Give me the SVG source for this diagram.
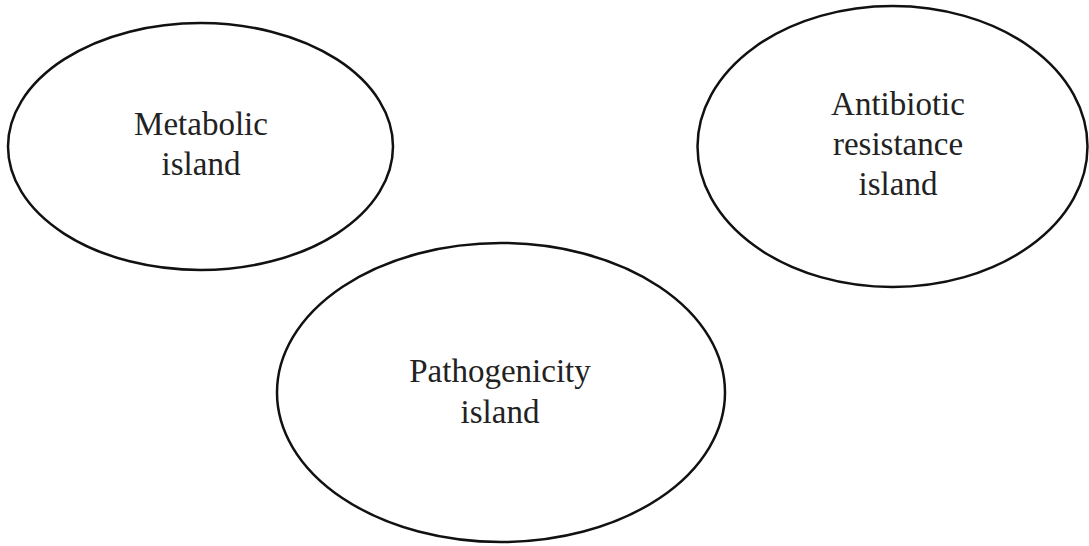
<svg xmlns="http://www.w3.org/2000/svg" width="1089" height="546" viewBox="0 0 1089 546">
  <style>
    .island { fill: #ffffff; stroke: #111111; stroke-width: 2.5; }
    .label { font-family: "Liberation Serif", "Times New Roman", serif; font-size: 33px; fill: #222222; text-anchor: middle; }
  </style>
  <rect width="1089" height="546" fill="#ffffff"/>
  <g id="connectors"></g>
  <g id="metabolic-island">
    <ellipse class="island" cx="200.5" cy="146.5" rx="192.5" ry="123.5"/>
    <text class="label" x="201" y="135">Metabolic</text>
    <text class="label" x="201" y="175">island</text>
  </g>
  <g id="antibiotic-resistance-island">
    <ellipse class="island" cx="892.5" cy="146.5" rx="195" ry="140.5"/>
    <text class="label" x="898" y="115">Antibiotic</text>
    <text class="label" x="898" y="155">resistance</text>
    <text class="label" x="898" y="195">island</text>
  </g>
  <g id="pathogenicity-island">
    <ellipse class="island" cx="501" cy="392.5" rx="224" ry="149.5"/>
    <text class="label" x="500" y="382">Pathogenicity</text>
    <text class="label" x="500" y="423">island</text>
  </g>
</svg>
